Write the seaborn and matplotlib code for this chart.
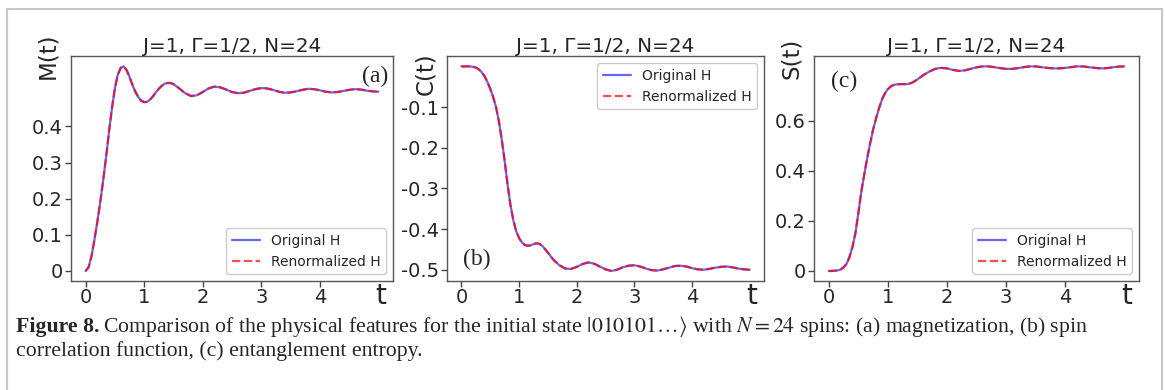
import matplotlib
matplotlib.use("Agg")
import matplotlib.pyplot as plt
import matplotlib.patches as mpatches
import seaborn as sns

sns.set_style("ticks")
plt.rcParams['font.family'] = ['DejaVu Sans']
plt.rcParams['mathtext.fontset'] = 'stix'

# time grid
t = [0.0, 0.05, 0.1, 0.15, 0.2, 0.25, 0.3, 0.35, 0.4, 0.45, 0.5, 0.55, 0.6, 0.65,
     0.7, 0.75, 0.8, 0.85, 0.9, 0.95, 1.0, 1.05, 1.1, 1.15, 1.2, 1.25, 1.3, 1.35,
     1.4, 1.45, 1.5, 1.6, 1.7, 1.8, 1.9, 2.0, 2.1, 2.2, 2.3, 2.4, 2.5, 2.6, 2.7,
     2.8, 2.9, 3.0, 3.1, 3.2, 3.3, 3.4, 3.5, 3.6, 3.7, 3.8, 3.9, 4.0, 4.1, 4.2,
     4.3, 4.4, 4.5, 4.6, 4.7, 4.8, 4.9, 5.0]

# (a) magnetization
M_orig = [0.000, 0.010, 0.040, 0.085, 0.135, 0.190, 0.250, 0.315, 0.385, 0.450,
          0.505, 0.543, 0.562, 0.566, 0.556, 0.537, 0.515, 0.496, 0.481, 0.471,
          0.467, 0.468, 0.474, 0.483, 0.494, 0.504, 0.512, 0.518, 0.520, 0.520,
          0.517, 0.505, 0.492, 0.484, 0.486, 0.495, 0.505, 0.510, 0.508, 0.502,
          0.495, 0.492, 0.493, 0.498, 0.503, 0.506, 0.505, 0.501, 0.496, 0.493,
          0.494, 0.497, 0.501, 0.504, 0.503, 0.500, 0.496, 0.494, 0.495, 0.498,
          0.501, 0.503, 0.502, 0.499, 0.497, 0.496]
M_renorm = list(M_orig)  # the two curves coincide

# (b) spin correlation
C_orig = [0.000, 0.000, 0.000, 0.000, -0.001, -0.003, -0.007, -0.014, -0.024, -0.038,
          -0.055, -0.075, -0.100, -0.135, -0.180, -0.232, -0.290, -0.340, -0.378, -0.405,
          -0.422, -0.433, -0.439, -0.441, -0.440, -0.437, -0.435, -0.436, -0.441, -0.449,
          -0.458, -0.476, -0.489, -0.497, -0.498, -0.493, -0.486, -0.482, -0.485, -0.492,
          -0.499, -0.503, -0.500, -0.494, -0.490, -0.489, -0.492, -0.497, -0.501, -0.502,
          -0.499, -0.495, -0.491, -0.490, -0.492, -0.496, -0.499, -0.500, -0.498, -0.495,
          -0.493, -0.492, -0.494, -0.497, -0.499, -0.500]
C_renorm = list(C_orig)

# (c) entanglement entropy
S_orig = [0.000, 0.000, 0.001, 0.002, 0.006, 0.014, 0.028, 0.055, 0.095, 0.150,
          0.230, 0.315, 0.385, 0.450, 0.510, 0.565, 0.610, 0.650, 0.685, 0.710,
          0.727, 0.738, 0.744, 0.746, 0.747, 0.747, 0.747, 0.748, 0.752, 0.758,
          0.766, 0.783, 0.797, 0.808, 0.812, 0.810, 0.804, 0.800, 0.802, 0.808,
          0.814, 0.818, 0.818, 0.815, 0.811, 0.808, 0.808, 0.811, 0.815, 0.818,
          0.818, 0.815, 0.812, 0.810, 0.810, 0.812, 0.815, 0.818, 0.818, 0.815,
          0.812, 0.810, 0.811, 0.814, 0.817, 0.818]
S_renorm = list(S_orig)

x_ticks = [0, 1, 2, 3, 4]
y_ticks_M = [0, 0.1, 0.2, 0.3, 0.4]
y_labels_M = ['0', '0.1', '0.2', '0.3', '0.4']
y_ticks_C = [-0.1, -0.2, -0.3, -0.4, -0.5]
y_labels_C = ['-0.1', '-0.2', '-0.3', '-0.4', '-0.5']
y_ticks_S = [0, 0.2, 0.4, 0.6]
y_labels_S = ['0', '0.2', '0.4', '0.6']

title = 'J=1, Γ=1/2, N=24'

fig = plt.figure(figsize=(11.65, 3.9), dpi=100)

# light gray frame round the figure (open at the bottom)
fig.add_artist(mpatches.Rectangle((7 / 1165, -0.05), 1155 / 1165, 1.05 - 9 / 390,
                                  transform=fig.transFigure, fill=False,
                                  edgecolor='#c8c8c8', lw=1.5))

rects = [(0.0609, 0.279, 0.2764, 0.577),
         (0.3837, 0.279, 0.2721, 0.577),
         (0.6987, 0.279, 0.2790, 0.577)]

panels = [
    dict(y1=M_orig, y2=M_renorm, ylab='M(t)', yt=y_ticks_M, yl=y_labels_M,
         leg='lower right', tag='(a)', tagpos=(0.985, 0.955, 'right', 'top'),
         ylc=(-0.035, 1.0)),
    dict(y1=C_orig, y2=C_renorm, ylab='C(t)', yt=y_ticks_C, yl=y_labels_C,
         leg='upper right', tag='(b)', tagpos=(0.05, 0.05, 'left', 'bottom'),
         ylc=(-0.03, 0.924)),
    dict(y1=S_orig, y2=S_renorm, ylab='S(t)', yt=y_ticks_S, yl=y_labels_S,
         leg='lower right', tag='(c)', tagpos=(0.052, 0.935, 'left', 'top'),
         ylc=(-0.035, 0.99)),
]

for rect, p in zip(rects, panels):
    ax = fig.add_axes(rect)
    sns.lineplot(x=t, y=p['y1'], ax=ax, color='blue', alpha=0.6, lw=1.6,
                 estimator=None, label='Original H')
    sns.lineplot(x=t, y=p['y2'], ax=ax, color='red', alpha=0.7, lw=1.6,
                 linestyle='--', estimator=None, label='Renormalized H')

    ax.set_xticks(x_ticks)
    ax.set_xticklabels([str(v) for v in x_ticks])
    ax.set_yticks(p['yt'])
    ax.set_yticklabels(p['yl'])
    ax.tick_params(axis='both', labelsize=14, length=4.5, width=1,
                   color='#444444')
    ax.tick_params(axis='x', pad=0.5)
    ax.tick_params(axis='y', pad=1.5)
    for s in ax.spines.values():
        s.set_color('#555555')
        s.set_linewidth(1)

    ax.set_title(title, fontsize=14.4, pad=3)
    ax.set_ylabel(p['ylab'], fontsize=16.5)
    ax.yaxis.set_label_coords(*p['ylc'])
    ax.set_xlabel('t', fontsize=20)
    ax.xaxis.set_label_coords(0.962, -0.005)

    ax.legend(loc=p['leg'], fontsize=10, framealpha=1)
    x, y, ha, va = p['tagpos']
    ax.text(x, y, p['tag'], transform=ax.transAxes, ha=ha, va=va,
            fontsize=17, family='Liberation Serif')

# caption
cap_size = 15.7
cap1 = fig.text(16 / 1165, 1 - 332 / 390, 'Figure 8.', fontsize=cap_size,
                family='Liberation Serif', weight='bold', va='baseline')
fig.canvas.draw()
bb = cap1.get_window_extent()
fig.text(bb.x1 / 1165 + 4 / 1165, 1 - 332 / 390,
         r'Comparison of the physical features for the initial state '
         r'$|010101\ldots\rangle$ with $N=24$ spins: (a) magnetization, (b) spin',
         fontsize=cap_size, family='Liberation Serif', va='baseline')
fig.text(16 / 1165, 1 - 356 / 390,
         'correlation function, (c) entanglement entropy.',
         fontsize=cap_size, family='Liberation Serif', va='baseline')

fig.savefig('out.png', dpi=100)
